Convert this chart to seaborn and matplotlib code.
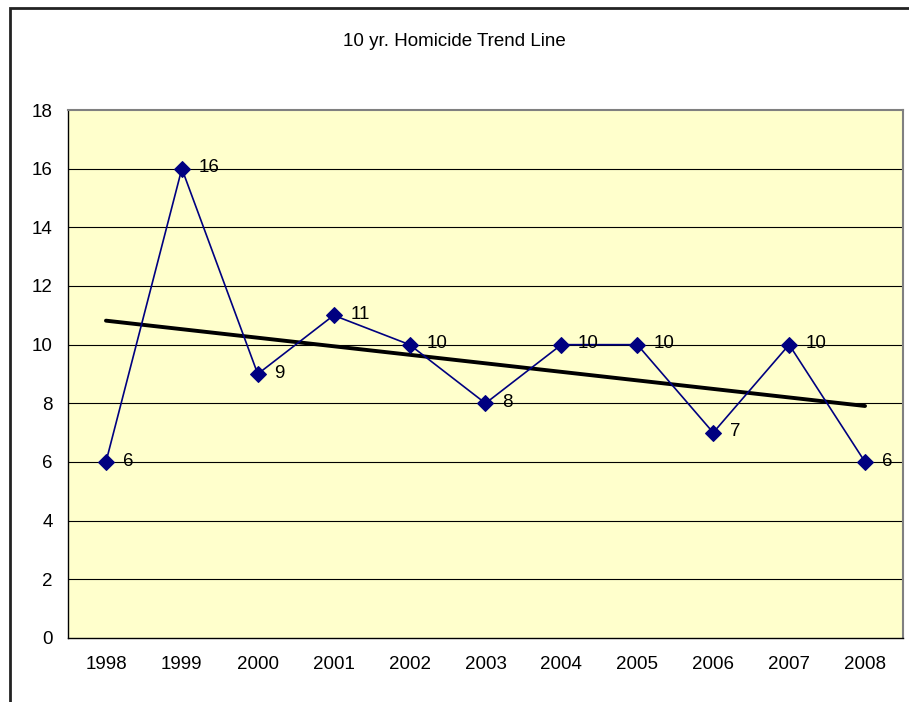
import matplotlib.pyplot as plt
import seaborn as sns
import pandas as pd
from matplotlib.patches import Rectangle

years = ['1998', '1999', '2000', '2001', '2002', '2003', '2004', '2005', '2006', '2007', '2008']
homicides = [6, 16, 9, 11, 10, 8, 10, 10, 7, 10, 6]

df = pd.DataFrame({'year': years, 'count': homicides})
df['pos'] = range(len(years))

sns.set_theme(style="white")
plt.rcParams['font.family'] = ['Liberation Sans', 'DejaVu Sans']
plt.rcParams['text.color'] = 'black'
plt.rcParams['xtick.color'] = 'black'
plt.rcParams['ytick.color'] = 'black'

fig = plt.figure(figsize=(9.09, 7.02), dpi=100)
ax = fig.add_axes([0.0748, 0.0912, 0.9186, 0.7521])
ax.set_facecolor('#FFFFCC')

# outer chart frame (Excel style)
fig.patches.append(Rectangle((10 / 909, -0.05), 1.2, 1.05 - 8 / 702, transform=fig.transFigure,
                             fill=False, edgecolor='#222222', linewidth=2, zorder=0))

for y in range(2, 18, 2):
    ax.axhline(y, color='black', linewidth=0.8, zorder=1)

# linear trend line
sns.regplot(data=df, x='pos', y='count', ci=None, scatter=False, truncate=True,
            line_kws={'color': 'black', 'linewidth': 2.8}, ax=ax)

sns.lineplot(data=df, x='pos', y='count', color='#000080', linewidth=1.2,
             marker='D', markersize=8, markeredgecolor='#000080', ax=ax, zorder=3)

for p, v in zip(df['pos'], df['count']):
    ax.annotate(str(v), (p, v), xytext=(12, 0.5), textcoords='offset points',
                va='center', ha='left', fontsize=13.5, color='black')

ax.set_xlim(-0.5, len(years) - 0.5)
ax.set_ylim(0, 18)
ax.set_yticks(range(0, 19, 2))
ax.set_xticks(df['pos'])
ax.set_xticklabels(years)
ax.set_xticks([i + 0.5 for i in range(-1, len(years))], minor=True)
ax.tick_params(axis='x', which='major', length=0, pad=13, labelsize=13.5)
ax.tick_params(axis='x', which='minor', length=6, width=1, color='black', direction='out')
ax.tick_params(axis='y', length=5, width=1, color='black', direction='out', pad=6, labelsize=13.5)
ax.set_xlabel('')
ax.set_ylabel('')

for side in ['left', 'bottom']:
    ax.spines[side].set_color('black')
    ax.spines[side].set_linewidth(1)
for side in ['top', 'right']:
    ax.spines[side].set_color('#808080')
    ax.spines[side].set_linewidth(1.5)

fig.text(0.5, 1 - 41 / 702, '10 yr. Homicide Trend Line', ha='center', va='center', fontsize=13.5)

plt.savefig('out.png', dpi=100)
